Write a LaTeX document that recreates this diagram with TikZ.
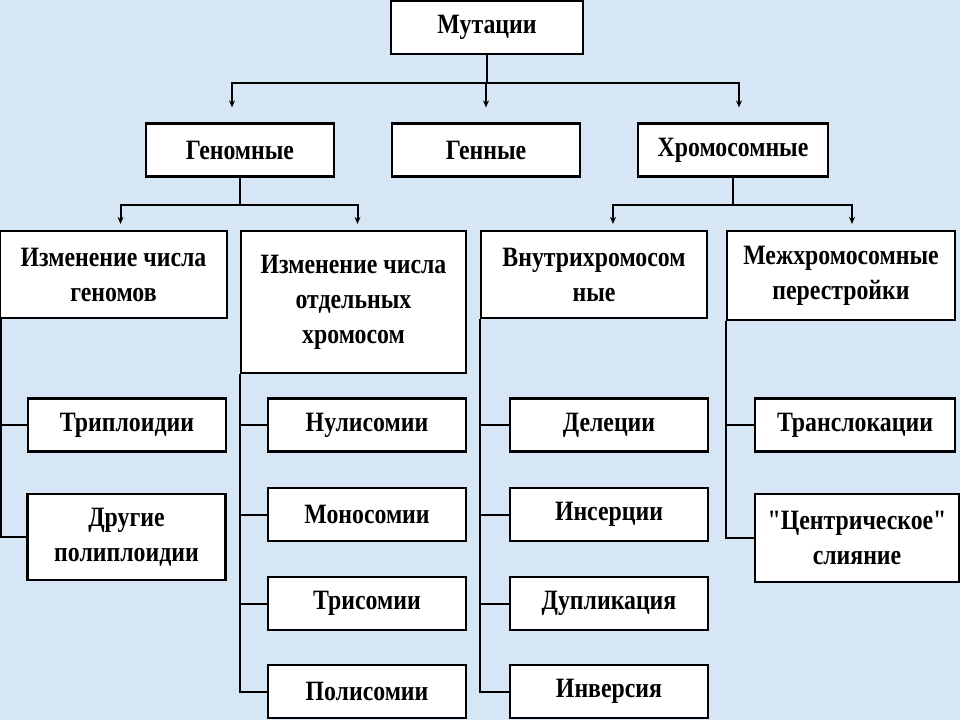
\documentclass[tikz,border=0pt]{standalone}
\usepackage{fontspec}
\setmainfont{Liberation Serif}[FakeStretch=0.85, Ligatures=TeXOff]
\usetikzlibrary{arrows.meta}
\definecolor{slidebg}{RGB}{214,230,245}
\begin{document}
\begin{tikzpicture}[%
            x=1pt, y=-1pt,
            mybox/.style={draw, fill=white, line width=2.2pt, inner sep=0pt, align=center,
                minimum width=198pt, minimum height=53pt,
                font=\fontsize{28}{35}\selectfont\bfseries},
            myline/.style={line width=2pt},
            myarrow/.style={myline, -{Stealth[length=7pt,width=6pt]}}
    ]
        \fill [slidebg] (0,0) rectangle (960,720);
        \useasboundingbox (0,0) rectangle (960,720);

        % top levels
        \node [mybox, minimum width=192pt] (mut) at (487,27.5) {Мутации};
        \node [mybox, minimum width=188pt] (genom) at (240,150) {Геномные};
        \node [mybox, minimum width=188pt] (gen) at (486,150) {Генные};
        \node [mybox, minimum width=190pt] (chrom) at (733,150) {Хромосомные};

        \node [mybox, minimum width=227pt, minimum height=87pt] (chgenom) at (113.5,274.5)
            {Изменение числа\\геномов};
        \node [mybox, minimum width=225pt, minimum height=142pt] (chchrom) at (353.5,302)
            {Изменение числа\\отдельных\\хромосом};
        \node [mybox, minimum width=226pt, minimum height=87pt] (intra) at (594,274.5)
            {Внутрихромосом\\ные};
        \node [mybox, minimum width=228pt, minimum height=89pt] (inter) at (841,275.5)
            {Межхромосомные\\перестройки};

        % lower level
        \node [mybox] (tripl) at (127,425) {Триплоидии};
        \node [mybox, minimum height=86pt] (polypl) at (126.5,537) {Другие\\полиплоидии};

        \node [mybox] (nuli) at (367,425) {Нулисомии};
        \node [mybox] (mono) at (367,514.5) {Моносомии};
        \node [mybox] (tri) at (367,603.5) {Трисомии};
        \node [mybox] (poly) at (367,691.5) {Полисомии};

        \node [mybox] (del) at (609,425) {Делеции};
        \node [mybox] (ins) at (609,514.5) {Инсерции};
        \node [mybox] (dup) at (609,603.5) {Дупликация};
        \node [mybox] (inv) at (609,691.5) {Инверсия};

        \node [mybox, minimum width=200pt] (trans) at (855,425) {Транслокации};
        \node [mybox, minimum width=204pt, minimum height=88pt] (centr) at (857,538)
            {"Центрическое"\\слияние};

        % arrows
        \draw [myarrow, shorten >=15pt] (mut.south) -- ++(0,28) -| ([xshift=-8pt]genom.north);
        \draw [myarrow, shorten >=15pt] (mut.south) -- ++(0,28) -| (gen.north);
        \draw [myarrow, shorten >=15pt] (mut.south) -- ++(0,28) -| ([xshift=6pt]chrom.north);

        \draw [myarrow, shorten >=6pt] (genom.south) -- ++(0,27) -| ([xshift=7pt]chgenom.north);
        \draw [myarrow, shorten >=6pt] (genom.south) -- ++(0,27) -| ([xshift=4pt]chchrom.north);
        \draw [myarrow, shorten >=6pt] (chrom.south) -- ++(0,27) -| ([xshift=19pt]intra.north);
        \draw [myarrow, shorten >=6pt] (chrom.south) -- ++(0,27) -| ([xshift=11pt]inter.north);

        % side buses
        \draw [myline] ([xshift=2pt]chgenom.south west) |- (tripl.west);
        \draw [myline] ([xshift=2pt]chgenom.south west) |- (polypl.west);

        \foreach \n in {nuli,mono,tri,poly}
            \draw [myline] (chchrom.south west) |- (\n.west);
        \foreach \n in {del,ins,dup,inv}
            \draw [myline] (intra.south west) |- (\n.west);
        \foreach \n in {trans,centr}
            \draw [myline] (inter.south west) |- (\n.west);
    \end{tikzpicture}
\end{document}
